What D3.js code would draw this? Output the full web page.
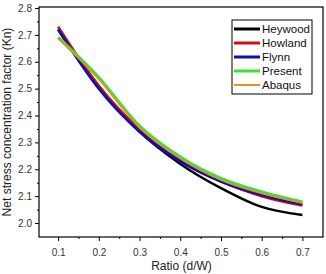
<!DOCTYPE html>
<html>
<head>
<meta charset="utf-8">
<script src="https://cdn.jsdelivr.net/npm/d3@7"></script>
<style>
  body { margin: 0; background: #fff; }
  text { font-family: "Liberation Sans", Arial, sans-serif; }
</style>
</head>
<body>
<div id="chart"></div>
<script>
// Data
const ratios = [0.1, 0.2, 0.3, 0.4, 0.5, 0.6, 0.7];
const heywood = [2.72, 2.51, 2.34, 2.22, 2.13, 2.06, 2.03];
const howland = [2.73, 2.51, 2.35, 2.235, 2.155, 2.10, 2.065];
const flynn = [2.72, 2.50, 2.34, 2.23, 2.155, 2.105, 2.07];
const present = [2.69, 2.54, 2.36, 2.245, 2.165, 2.115, 2.078];
const abaqus = [2.69, 2.535, 2.355, 2.24, 2.16, 2.11, 2.075];
const xTicks = [0.1, 0.2, 0.3, 0.4, 0.5, 0.6, 0.7];
const yTicks = [2.0, 2.1, 2.2, 2.3, 2.4, 2.5, 2.6, 2.7, 2.8];

const series = [
  { name: 'Heywood', values: heywood, color: '#000000', width: 2.4 },
  { name: 'Howland', values: howland, color: '#d01010', width: 2.6 },
  { name: 'Flynn', values: flynn, color: '#1010b0', width: 2.8 },
  { name: 'Present', values: present, color: '#33e633', width: 3.4 },
  { name: 'Abaqus', values: abaqus, color: '#f08c20', width: 1.6 }
];

const width = 326, height = 274;
const margin = { top: 7, right: 2, bottom: 37, left: 39 };

const svg = d3.select('#chart').append('svg')
  .attr('width', width)
  .attr('height', height);

const x = d3.scaleLinear()
  .domain([0.053, 0.753])
  .range([margin.left, width - margin.right]);

const y = d3.scaleLinear()
  .domain([1.948, 2.8])
  .range([height - margin.bottom, margin.top + 1]);

// Lines
const line = d3.line()
  .x((d, i) => x(ratios[i]))
  .y(d => y(d))
  .curve(d3.curveMonotoneX);

series.forEach(s => {
  svg.append('path')
    .datum(s.values)
    .attr('fill', 'none')
    .attr('stroke', s.color)
    .attr('stroke-width', s.width)
    .attr('stroke-linejoin', 'round')
    .attr('d', line);
});

// Frame
svg.append('rect')
  .attr('x', margin.left)
  .attr('y', margin.top)
  .attr('width', width - margin.left - margin.right - 1)
  .attr('height', height - margin.top - margin.bottom)
  .attr('fill', 'none')
  .attr('stroke', '#000')
  .attr('stroke-width', 1.2);

// Axes
const xAxis = svg.append('g')
  .attr('transform', `translate(0, ${height - margin.bottom})`)
  .call(d3.axisBottom(x).tickValues(xTicks).tickSize(4).tickFormat(d3.format('.1f')));

svg.append('g')
  .attr('transform', `translate(0, ${height - margin.bottom})`)
  .call(d3.axisBottom(x).tickValues(d3.range(0.15, 0.75, 0.1)).tickSize(2).tickFormat(''))
  .select('.domain').remove();

const yAxis = svg.append('g')
  .attr('transform', `translate(${margin.left}, 0)`)
  .call(d3.axisLeft(y).tickValues(yTicks).tickSize(4).tickFormat(d3.format('.1f')));

svg.append('g')
  .attr('transform', `translate(${margin.left}, 0)`)
  .call(d3.axisLeft(y).tickValues(d3.range(2.05, 2.8, 0.1)).tickSize(2).tickFormat(''))
  .select('.domain').remove();

svg.selectAll('.domain').remove();
svg.selectAll('.tick line').attr('stroke', '#000');
svg.selectAll('.tick text')
  .attr('fill', '#333')
  .attr('font-size', '10px')
  .attr('font-family', '"Liberation Sans", Arial, sans-serif');
xAxis.selectAll('.tick text').attr('dy', '1.2em');

// Axis titles
svg.append('text')
  .attr('x', (margin.left + width - margin.right) / 2)
  .attr('y', 270)
  .attr('text-anchor', 'middle')
  .attr('font-size', '12px')
  .attr('fill', '#222')
  .text('Ratio (d/W)');

svg.append('text')
  .attr('transform', `translate(11, ${(margin.top + height - margin.bottom) / 2}) rotate(-90)`)
  .attr('text-anchor', 'middle')
  .attr('font-size', '12px')
  .attr('fill', '#222')
  .text('Net stress concentration factor (Kn)');

// Legend
const legend = svg.append('g').attr('transform', 'translate(232, 20)');
legend.append('rect')
  .attr('width', 80)
  .attr('height', 74)
  .attr('fill', '#fff')
  .attr('stroke', '#000')
  .attr('stroke-width', 1);

series.forEach((s, i) => {
  const ly = 9 + i * 14;
  legend.append('line')
    .attr('x1', 2).attr('x2', 28)
    .attr('y1', ly).attr('y2', ly)
    .attr('stroke', s.color)
    .attr('stroke-width', i === 4 ? 2 : 3);
  legend.append('text')
    .attr('x', 30)
    .attr('y', ly + 4)
    .attr('font-size', '11.5px')
    .attr('fill', '#111')
    .text(s.name);
});
</script>
</body>
</html>
